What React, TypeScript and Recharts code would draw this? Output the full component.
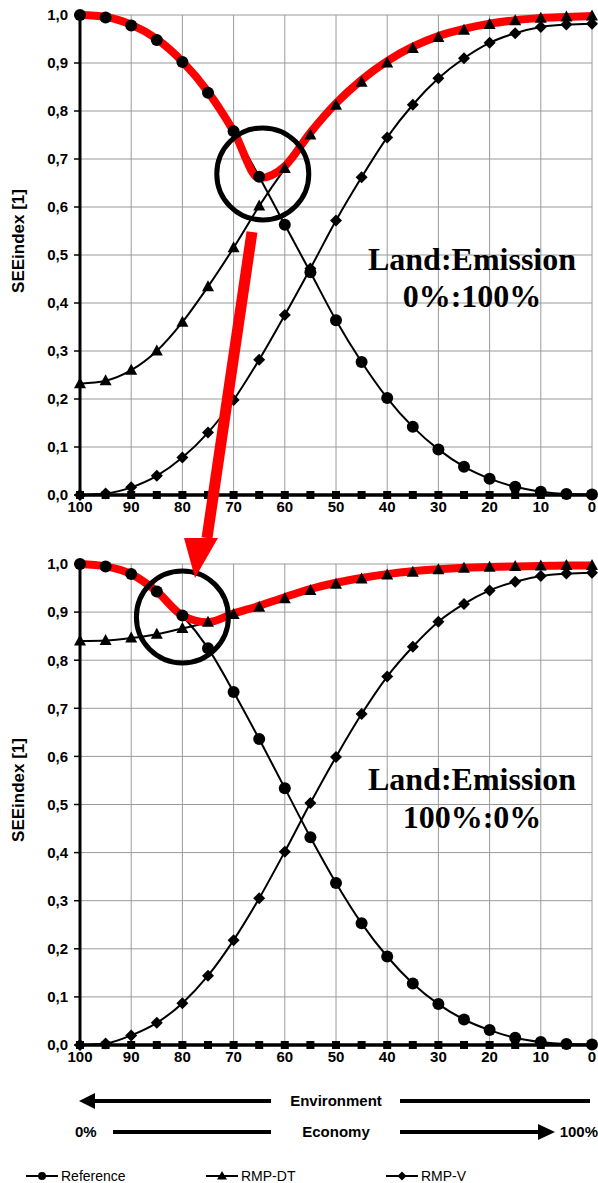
import React from 'react';
import { LineChart, Line, XAxis, YAxis, CartesianGrid, ReferenceDot } from 'recharts';

const xValues = [100, 95, 90, 85, 80, 75, 70, 65, 60, 55, 50, 45, 40, 35, 30, 25, 20, 15, 10, 5, 0];
const xTicks = [100, 90, 80, 70, 60, 50, 40, 30, 20, 10, 0];
const yTicks = [0, 0.1, 0.2, 0.3, 0.4, 0.5, 0.6, 0.7, 0.8, 0.9, 1.0];

// Panel 1: Land:Emission 0%:100%
const topReference = [1.0, 0.995, 0.978, 0.948, 0.902, 0.838, 0.758, 0.663, 0.563, 0.464, 0.364, 0.277, 0.202, 0.142, 0.095, 0.059, 0.034, 0.017, 0.007, 0.002, 0.001];
const topRmpDt = [0.232, 0.238, 0.26, 0.3, 0.36, 0.434, 0.515, 0.602, 0.68, 0.75, 0.812, 0.86, 0.9, 0.93, 0.953, 0.968, 0.98, 0.988, 0.993, 0.996, 0.998];
const topRmpV = [0, 0.003, 0.016, 0.04, 0.078, 0.13, 0.198, 0.282, 0.375, 0.472, 0.572, 0.662, 0.745, 0.813, 0.868, 0.91, 0.942, 0.962, 0.975, 0.98, 0.982];
const topOptimum = [1.0, 0.996, 0.98, 0.95, 0.903, 0.84, 0.758, 0.66, 0.685, 0.755, 0.816, 0.865, 0.904, 0.934, 0.956, 0.971, 0.982, 0.989, 0.994, 0.996, 0.998];
const topZero = [0, 0, 0, 0, 0, 0, 0, 0, 0, 0, 0, 0, 0, 0, 0, 0, 0, 0, 0, 0, 0];

// Panel 2: Land:Emission 100%:0%
const botReference = [1.0, 0.995, 0.979, 0.943, 0.893, 0.825, 0.734, 0.636, 0.534, 0.432, 0.337, 0.253, 0.184, 0.128, 0.085, 0.053, 0.031, 0.015, 0.006, 0.002, 0.001];
const botRmpDt = [0.84, 0.841, 0.846, 0.854, 0.866, 0.879, 0.895, 0.91, 0.928, 0.945, 0.958, 0.969, 0.977, 0.983, 0.988, 0.991, 0.993, 0.995, 0.996, 0.997, 0.997];
const botRmpV = [0, 0.003, 0.02, 0.046, 0.087, 0.144, 0.218, 0.305, 0.402, 0.503, 0.599, 0.688, 0.766, 0.828, 0.88, 0.917, 0.945, 0.963, 0.975, 0.98, 0.982];
const botOptimum = [1.0, 0.995, 0.979, 0.943, 0.893, 0.879, 0.897, 0.913, 0.931, 0.948, 0.961, 0.971, 0.979, 0.985, 0.989, 0.992, 0.994, 0.995, 0.996, 0.997, 0.997];
const botZero = [0, 0, 0, 0, 0, 0, 0, 0, 0, 0, 0, 0, 0, 0, 0, 0, 0, 0, 0, 0, 0];

// annotation circles (data coordinates)
const topHighlight = { x: 64.3, y: 0.669 };
const botHighlight = { x: 80, y: 0.89 };

const legendItems = ['Reference', 'RMP-DT', 'RMP-V'];

const SANS = '"Liberation Sans", Arial, sans-serif';
const SERIF = '"Liberation Serif", "Times New Roman", serif';

const circleDot = (p: any) =>
  p.cx == null ? null : <circle key={`c-${p.index}`} cx={p.cx} cy={p.cy} r={6} fill="#000" />;
const triangleDot = (p: any) =>
  p.cx == null ? null : (
    <polygon key={`t-${p.index}`} points={`${p.cx},${p.cy - 6.5} ${p.cx - 6},${p.cy + 4.5} ${p.cx + 6},${p.cy + 4.5}`} fill="#000" />
  );
const diamondDot = (p: any) =>
  p.cx == null ? null : (
    <polygon key={`d-${p.index}`} points={`${p.cx},${p.cy - 6} ${p.cx + 6},${p.cy} ${p.cx},${p.cy + 6} ${p.cx - 6},${p.cy}`} fill="#000" />
  );
const squareDot = (p: any) =>
  p.cx == null ? null : <rect key={`s-${p.index}`} x={p.cx - 4} y={p.cy - 4} width={8} height={8} fill="#000" />;

const fmt = (v: number) => v.toFixed(1).replace('.', ',');

function Panel(props: {
  reference: number[];
  rmpDt: number[];
  rmpV: number[];
  zero: number[];
  optimum: number[];
  highlight: { x: number; y: number };
  height: number;
}) {
  const data = xValues.map((x, i) => ({
    x,
    reference: props.reference[i],
    rmpDt: props.rmpDt[i],
    rmpV: props.rmpV[i],
    zero: props.zero[i],
    optimum: props.optimum[i],
  }));
  const tickStyle = { fontFamily: SANS, fontWeight: 700, fontSize: 15, fill: '#000' };
  return (
    <LineChart width={598} height={props.height} data={data} margin={{ top: 15, right: 6, bottom: 0, left: 0 }}>
      <CartesianGrid stroke="#9a9a9a" strokeWidth={1} />
      <XAxis
        type="number"
        dataKey="x"
        domain={[0, 100]}
        reversed
        ticks={xTicks}
        interval={0}
        height={25}
        tick={tickStyle}
        tickLine={false}
        tickSize={4}
        tickMargin={2}
        axisLine={{ stroke: '#000', strokeWidth: 3 }}
      />
      <YAxis
        type="number"
        domain={[0, 1]}
        ticks={yTicks}
        interval={0}
        width={80}
        tick={tickStyle}
        tickFormatter={fmt}
        tickSize={6}
        tickMargin={6}
        tickLine={{ stroke: '#000', strokeWidth: 1.5 }}
        axisLine={{ stroke: '#000', strokeWidth: 3 }}
      />
      <Line dataKey="reference" type="monotone" stroke="#000" strokeWidth={2} dot={circleDot} activeDot={false} isAnimationActive={false} />
      <Line dataKey="rmpDt" type="monotone" stroke="#000" strokeWidth={2} dot={triangleDot} activeDot={false} isAnimationActive={false} />
      <Line dataKey="rmpV" type="monotone" stroke="#000" strokeWidth={2} dot={diamondDot} activeDot={false} isAnimationActive={false} />
      <Line dataKey="zero" type="linear" stroke="#000" strokeWidth={3} dot={squareDot} activeDot={false} isAnimationActive={false} />
      <Line dataKey="optimum" type="monotone" stroke="#ff0000" strokeWidth={8} dot={false} activeDot={false} isAnimationActive={false} />
      <ReferenceDot x={props.highlight.x} y={props.highlight.y} r={46} fill="none" stroke="#000" strokeWidth={5} ifOverflow="visible" />
    </LineChart>
  );
}

function LegendMarker({ kind, cx, cy }: { kind: string; cx: number; cy: number }) {
  if (kind === 'Reference') return <circle cx={cx} cy={cy} r={4} fill="#000" />;
  if (kind === 'RMP-DT') return <polygon points={`${cx},${cy - 5} ${cx - 5},${cy + 3.5} ${cx + 5},${cy + 3.5}`} fill="#000" />;
  return <polygon points={`${cx},${cy - 4.5} ${cx + 4.5},${cy} ${cx},${cy + 4.5} ${cx - 4.5},${cy}`} fill="#000" />;
}

export default function App() {
  const legendX = [26, 206, 386];
  return (
    <div style={{ position: 'absolute', left: 0, top: 0, width: 598, height: 1183, background: '#fff' }}>
      <div style={{ position: 'absolute', left: 0, top: 0 }}>
        <Panel reference={topReference} rmpDt={topRmpDt} rmpV={topRmpV} zero={topZero} optimum={topOptimum} highlight={topHighlight} height={520} />
      </div>
      <div style={{ position: 'absolute', left: 0, top: 549 }}>
        <Panel reference={botReference} rmpDt={botRmpDt} rmpV={botRmpV} zero={botZero} optimum={botOptimum} highlight={botHighlight} height={521} />
      </div>
      <svg width={598} height={1183} style={{ position: 'absolute', left: 0, top: 0, pointerEvents: 'none' }}>
        {/* y axis titles */}
        <text x={0} y={0} transform="translate(24,241) rotate(-90)" textAnchor="middle" fontFamily={SANS} fontWeight={700} fontSize={17} fill="#000">
          SEEindex [1]
        </text>
        <text x={0} y={0} transform="translate(24,790) rotate(-90)" textAnchor="middle" fontFamily={SANS} fontWeight={700} fontSize={17} fill="#000">
          SEEindex [1]
        </text>
        {/* panel captions */}
        <text x={472} y={270} textAnchor="middle" fontFamily={SERIF} fontWeight={700} fontSize={32} fill="#000">Land:Emission</text>
        <text x={472} y={307} textAnchor="middle" fontFamily={SERIF} fontWeight={700} fontSize={32} fill="#000">0%:100%</text>
        <text x={472} y={790} textAnchor="middle" fontFamily={SERIF} fontWeight={700} fontSize={32} fill="#000">Land:Emission</text>
        <text x={472} y={828} textAnchor="middle" fontFamily={SERIF} fontWeight={700} fontSize={32} fill="#000">100%:0%</text>
        {/* red arrow */}
        <line x1={252} y1={232} x2={207} y2={538} stroke="#ff0000" strokeWidth={11} />
        <polygon points="184,538 218,538 195,578" fill="#ff0000" />
        {/* Environment / Economy arrows */}
        <line x1={92} y1={1101} x2={271} y2={1101} stroke="#000" strokeWidth={4} />
        <polygon points="79,1101 95,1093 95,1109" fill="#000" />
        <text x={336} y={1106} textAnchor="middle" fontFamily={SANS} fontWeight={700} fontSize={15} fill="#000">Environment</text>
        <line x1={400} y1={1101} x2={590} y2={1101} stroke="#000" strokeWidth={4} />
        <text x={75} y={1137} fontFamily={SANS} fontWeight={700} fontSize={15} fill="#000">0%</text>
        <line x1={113} y1={1132} x2={271} y2={1132} stroke="#000" strokeWidth={4} />
        <text x={336} y={1137} textAnchor="middle" fontFamily={SANS} fontWeight={700} fontSize={15} fill="#000">Economy</text>
        <line x1={400} y1={1132} x2={540} y2={1132} stroke="#000" strokeWidth={4} />
        <polygon points="555,1132 538,1124 538,1140" fill="#000" />
        <text x={598} y={1137} textAnchor="end" fontFamily={SANS} fontWeight={700} fontSize={15} fill="#000">100%</text>
        {/* legend */}
        {legendItems.map((name, i) => (
          <g key={name}>
            <line x1={legendX[i]} y1={1176} x2={legendX[i] + 32} y2={1176} stroke="#000" strokeWidth={2} />
            <LegendMarker kind={name} cx={legendX[i] + 16} cy={1176} />
            <text x={legendX[i] + 35} y={1181} fontFamily={SANS} fontSize={14} fill="#000">{name}</text>
          </g>
        ))}
      </svg>
    </div>
  );
}
